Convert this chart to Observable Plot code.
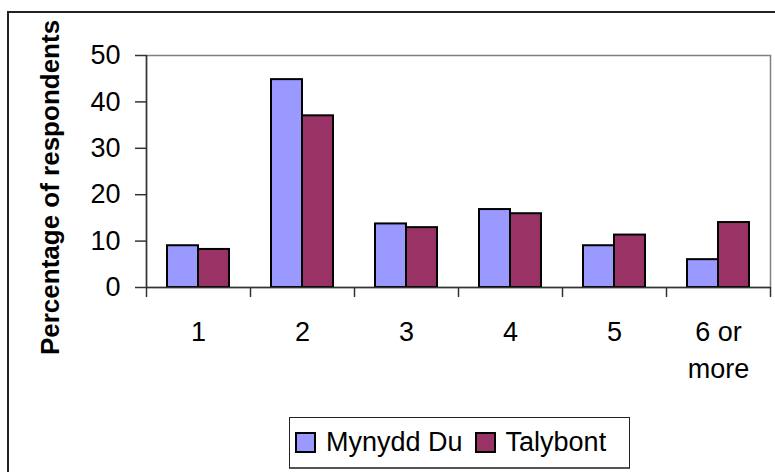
<!DOCTYPE html>
<html>
<head>
<meta charset="utf-8">
<script src="https://cdn.jsdelivr.net/npm/d3@7"></script>
<script src="https://cdn.jsdelivr.net/npm/@observablehq/plot@0.6"></script>
<style>
  html, body { margin: 0; padding: 0; background: #fff; overflow: hidden; width: 775px; height: 472px; }
  body { position: relative; font-family: "Liberation Sans", Arial, sans-serif; }
  #border { position: absolute; left: 7px; top: 11px; width: 820px; height: 520px; border: 2px solid #222; box-sizing: border-box; }
  #chart { position: absolute; left: 0; top: 0; }
  #legend { position: absolute; left: 289px; top: 417px; width: 341px; height: 52px; border: 1.5px solid #222; border-bottom: 2.5px solid #555; box-sizing: border-box; background: #fff; display: flex; align-items: center; font-size: 27px; color: #000; }
  .sw { width: 21px; height: 21px; border: 2px solid #000; box-sizing: border-box; flex: none; }
</style>
</head>
<body>
<div id="border"></div>
<div id="chart"></div>
<div id="legend"></div>
<script>
const categories = ["1", "2", "3", "4", "5", "6 or\nmore"];
const seriesNames = ["Mynydd Du", "Talybont"];
const seriesColors = ["#9999FF", "#993366"];
const mynyddDu = [9, 44.8, 13.7, 16.8, 9, 6];
const talybont = [8.2, 37, 12.9, 15.9, 11.3, 14];
const yTicks = [0, 10, 20, 30, 40, 50];

const table = categories.flatMap((c, i) => [
  {i, category: c, series: seriesNames[0], value: mynyddDu[i]},
  {i, category: c, series: seriesNames[1], value: talybont[i]}
]);

const bw = 0.298;
const x1 = d => d.i + 0.5 + (d.series === seriesNames[0] ? -bw : 0);
const x2 = d => x1(d) + bw;

const chart = Plot.plot({
  width: 775,
  height: 410,
  marginLeft: 146,
  marginRight: 5,
  marginTop: 55,
  marginBottom: 123,
  style: {fontFamily: "Liberation Sans, Arial, sans-serif", fontSize: "27px", background: "transparent", overflow: "visible"},
  x: {domain: [0, categories.length], axis: null},
  y: {domain: [0, 50], axis: null},
  color: {domain: seriesNames, range: seriesColors},
  marks: [
    Plot.frame({stroke: "#808080", strokeWidth: 1.5}),
    Plot.rectY(table, {x1, x2, y: "value", fill: "series", stroke: "#000", strokeWidth: 2}),
    Plot.ruleY([0], {stroke: "#333", strokeWidth: 1.5}),
    Plot.ruleX([0], {stroke: "#333", strokeWidth: 1.5}),
    Plot.axisY(yTicks, {tickSize: 11, tickPadding: 15, stroke: "#333", strokeWidth: 1.5, fill: "#000", fontSize: 27, label: null}),
    Plot.axisX(d3.range(categories.length + 1), {tickSize: 10, tickFormat: () => "", stroke: "#333", strokeWidth: 1.5, label: null}),
    Plot.text(categories, {x: (d, i) => i + 0.5, y: () => 0, dy: 28, lineAnchor: "top", lineHeight: 1.35, fontSize: 27, fill: "#000"}),
    Plot.text(["Percentage of respondents"], {frameAnchor: "left", textAnchor: "middle", lineAnchor: "middle", rotate: -90, dx: -96, dy: 16, fontWeight: "bold", fontSize: 26, fill: "#000"})
  ]
});
document.getElementById("chart").appendChild(chart);

const legend = document.getElementById("legend");
const gaps = [[5, 10], [12, 10]];
seriesNames.forEach((name, k) => {
  const sw = document.createElement("div");
  sw.className = "sw";
  sw.style.background = seriesColors[k];
  sw.style.marginLeft = gaps[k][0] + "px";
  const t = document.createElement("span");
  t.textContent = name;
  t.style.marginLeft = gaps[k][1] + "px";
  legend.appendChild(sw);
  legend.appendChild(t);
});
</script>
</body>
</html>
